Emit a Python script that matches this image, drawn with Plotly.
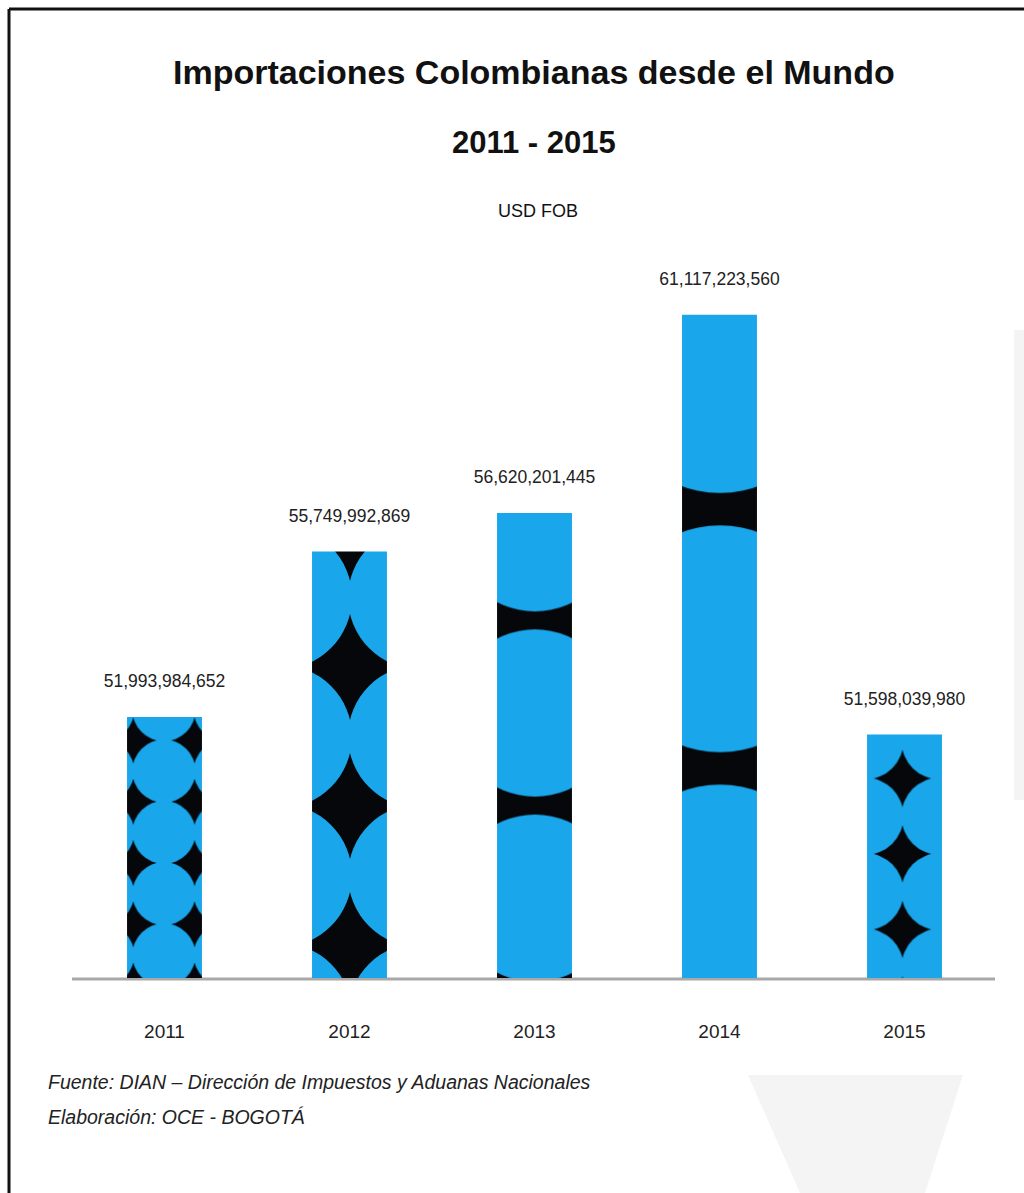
import plotly.graph_objects as go

years = ["2011", "2012", "2013", "2014", "2015"]
values = [51993984652, 55749992869, 56620201445, 61117223560, 51598039980]
pattern_sizes = [61.3, 139, 185.2, 259.2, 75.5]
pattern_solidity = [0.8, 0.8, 0.64, 0.6, 0.8]

title_text = "Importaciones Colombianas desde el Mundo"
subtitle_text = "2011 - 2015"
unit_text = "USD FOB"
source_text = "Fuente: DIAN – Dirección de Impuestos y Aduanas Nacionales"
credit_text = "Elaboración: OCE - BOGOTÁ"

W, H = 1024, 1193
L, R, T, B = 72, 27, 250, 215
PW, PH = W - L - R, H - T - B

def px(x):
    return (x - L) / PW

def py(y):
    return (H - B - y) / PH

FONT = "Liberation Sans, Arial, sans-serif"
PX_PER_UNIT = 44.07e-9  # pixels per USD on the value axis
y0 = 46.07e9
y1 = y0 + PH / PX_PER_UNIT

fig = go.Figure()
fig.add_trace(go.Bar(
    x=years, y=values, width=0.405,
    marker=dict(
        color="#1aa6ea",
        line=dict(width=0),
        pattern=dict(shape=".", bgcolor="#05070a", fgcolor="#1aa6ea",
                     size=pattern_sizes, solidity=pattern_solidity, fillmode="replace"),
    ),
    hoverinfo="x+y",
))

# value labels above each bar
label_offset = 34 / PX_PER_UNIT
fig.add_trace(go.Scatter(
    x=years, y=[v + label_offset for v in values],
    mode="text", text=[f"{v:,}" for v in values],
    textposition="middle center", cliponaxis=False,
    textfont=dict(family=FONT, size=17.5, color="#222"),
    hoverinfo="skip",
))

shapes = []
shapes.append(dict(type="line", xref="paper", yref="paper", x0=px(9), x1=px(1024), y0=py(9), y1=py(9),
                   line=dict(color="#111", width=3)))
shapes.append(dict(type="line", xref="paper", yref="paper", x0=px(9), x1=px(9), y0=py(9), y1=py(1193),
                   line=dict(color="#111", width=3)))
shapes.append(dict(type="path", xref="paper", yref="paper", layer="below",
                   path=f"M {px(748)} {py(1075)} L {px(963)} {py(1075)} L {px(925)} {py(1193)} L {px(800)} {py(1193)} Z",
                   fillcolor="#f4f4f4", line=dict(width=0)))
shapes.append(dict(type="rect", xref="paper", yref="paper", layer="below",
                   x0=px(1014), x1=px(1024), y0=py(330), y1=py(800),
                   fillcolor="#f4f4f4", line=dict(width=0)))
shapes.append(dict(type="line", xref="paper", yref="paper", layer="below",
                   x0=0, x1=px(995), y0=py(979), y1=py(979),
                   line=dict(color="#a8a8a8", width=3)))

ann = [
    dict(text=f"<b>{title_text}</b>", x=px(534), y=py(72), font=dict(family=FONT, size=34, color="#111")),
    dict(text=f"<b>{subtitle_text}</b>", x=px(534), y=py(142), font=dict(family=FONT, size=31, color="#111")),
    dict(text=unit_text, x=px(538), y=py(211), font=dict(family=FONT, size=18, color="#111")),
    dict(text=f"<i>{source_text}</i>", x=px(46), y=py(1082), xanchor="left",
         font=dict(family=FONT, size=19.5, color="#222")),
    dict(text=f"<i>{credit_text}</i>", x=px(46), y=py(1117), xanchor="left",
         font=dict(family=FONT, size=19.5, color="#222")),
]
for a in ann:
    a.setdefault("xanchor", "center")
    fig.add_annotation(xref="paper", yref="paper", yanchor="middle", showarrow=False, **a)

fig.update_layout(
    width=W, height=H,
    margin=dict(l=L, r=R, t=T, b=B),
    paper_bgcolor="white", plot_bgcolor="white",
    showlegend=False,
    shapes=shapes,
    xaxis=dict(showgrid=False, showline=False, zeroline=False,
               ticks="outside", ticklen=36, tickcolor="rgba(0,0,0,0)",
               tickfont=dict(family=FONT, size=19, color="#222"),
               range=[-0.5, 4.5]),
    yaxis=dict(visible=False, range=[y0, y1], showgrid=False),
)

fig.write_html("out.html")
